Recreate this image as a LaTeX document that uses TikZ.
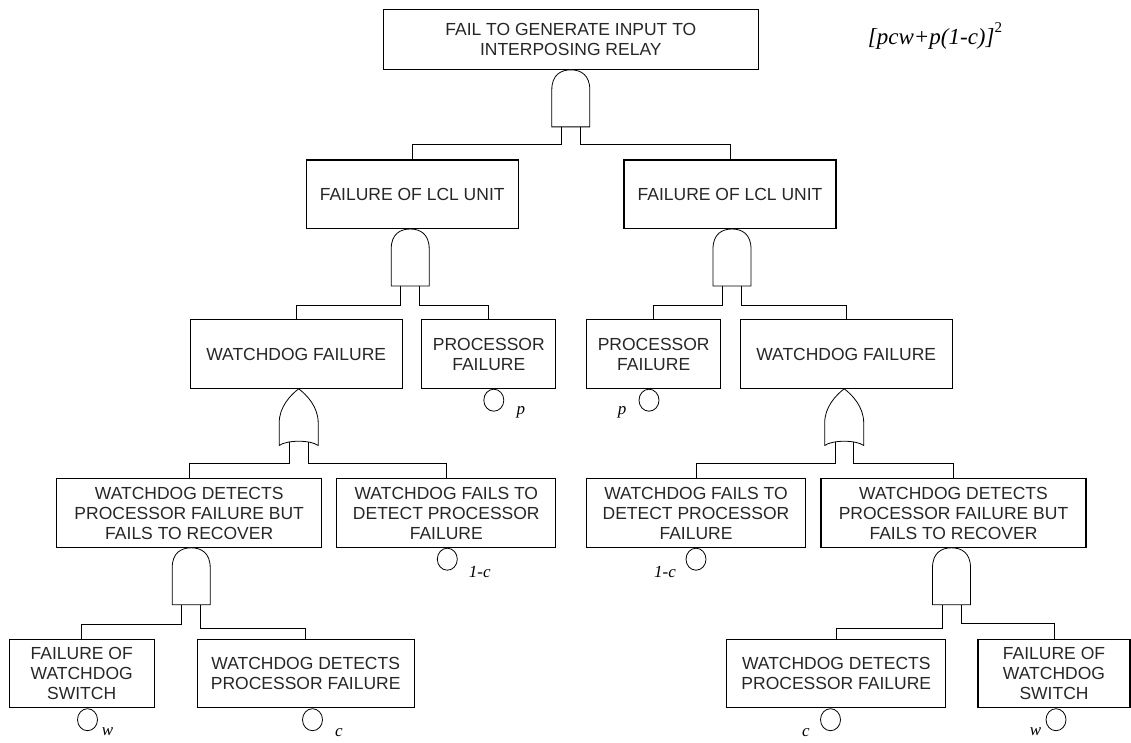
\documentclass[tikz,border=0pt]{standalone}
\usepackage{fontspec}
\setmainfont{Liberation Sans}
\newfontfamily\formfont{Liberation Serif}
\usetikzlibrary{calc,shapes.geometric}

\begin{document}
\begin{tikzpicture}[x=1pt,y=-1pt,
  evbox/.style={draw, line width=1.1pt, rectangle, inner sep=0pt, align=center,
    minimum height=68.5pt, font=\fontsize{17.5}{20}\selectfont, text=black!85},
  wire/.style={line width=0.8pt},
  gatepath/.style={draw, line width=0.8pt, fill=white},
  basic/.style={draw, ellipse, line width=0.8pt, minimum width=20pt,
    minimum height=22pt, inner sep=0pt, anchor=north},
  prob/.style={font=\formfont\itshape\fontsize{17}{19}\selectfont, inner sep=0pt},
  andgate/.pic={
    \draw[gatepath] (-19,57) -- (-19,20) .. controls (-19,5) and (-10,0) .. (0,0)
      .. controls (10,0) and (19,5) .. (19,20) -- (19,57) -- cycle;
    \coordinate (-l) at (-9.5,57);
    \coordinate (-r) at (9.5,57);
  },
  orgate/.pic={
    \draw[gatepath] (0,0) .. controls (8,6) and (19.5,18) .. (19.5,34) -- (19.5,56.7)
      .. controls (12,51) and (-12,51) .. (-19.5,56.7) -- (-19.5,34)
      .. controls (-19.5,18) and (-8,6) .. cycle;
    \coordinate (-l) at (-9.3,53.4);
    \coordinate (-r) at (9.3,53.4);
  }]

\useasboundingbox (0,0) rectangle (1131,742);

% top event and result
\node[evbox, minimum width=375pt, minimum height=60pt] (top) at (570.8,39.3)
  {FAIL TO GENERATE INPUT TO\\INTERPOSING RELAY};
\node[inner sep=0pt, font=\formfont\fontsize{23}{25}\selectfont] (res) at (935,36)
  {\itshape [pcw+p(1-c)]\raisebox{0.5em}{\upshape\fontsize{15}{15}\selectfont 2}};

% second level
\node[evbox, minimum width=212pt] (lclL) at (412.2,194.2) {FAILURE OF LCL UNIT};
\node[evbox, minimum width=212pt] (lclR) at (730,194.2) {FAILURE OF LCL UNIT};

% third level
\node[evbox, minimum width=212pt] (wdL) at (296.2,354) {WATCHDOG FAILURE};
\node[evbox, minimum width=134pt] (pfL) at (488.8,354) {PROCESSOR\\FAILURE};
\node[evbox, minimum width=134pt] (pfR) at (653.7,354) {PROCESSOR\\FAILURE};
\node[evbox, minimum width=212pt] (wdR) at (846.2,354) {WATCHDOG FAILURE};

% fourth level
\node[evbox, minimum width=265pt] (dbfL) at (189.2,513)
  {WATCHDOG DETECTS\\PROCESSOR FAILURE BUT\\FAILS TO RECOVER};
\node[evbox, minimum width=219pt] (ftdL) at (446.3,513)
  {WATCHDOG FAILS TO\\DETECT PROCESSOR\\FAILURE};
\node[evbox, minimum width=219pt] (ftdR) at (696,513)
  {WATCHDOG FAILS TO\\DETECT PROCESSOR\\FAILURE};
\node[evbox, minimum width=265pt] (dbfR) at (953.5,513)
  {WATCHDOG DETECTS\\PROCESSOR FAILURE BUT\\FAILS TO RECOVER};

% fifth level
\node[evbox, minimum width=145pt] (fwsL) at (81.7,673.5)
  {FAILURE OF\\WATCHDOG\\SWITCH};
\node[evbox, minimum width=217pt] (dpfL) at (305.7,673.5)
  {WATCHDOG DETECTS\\PROCESSOR FAILURE};
\node[evbox, minimum width=219pt] (dpfR) at (836.3,673.5)
  {WATCHDOG DETECTS\\PROCESSOR FAILURE};
\node[evbox, minimum width=152pt] (fwsR) at (1054,673.5)
  {FAILURE OF\\WATCHDOG\\SWITCH};

% gates
\pic (g0) at (top.south) {andgate};
\pic (g1) at ($(lclL.south)+(-2,0)$) {andgate};
\pic (g2) at ($(lclR.south)+(2,0)$) {andgate};
\pic (g3) at ($(wdL.south)+(2.5,0)$) {orgate};
\pic (g4) at ($(wdR.south)+(-2,0)$) {orgate};
\pic (g5) at ($(dbfL.south)+(2,0)$) {andgate};
\pic (g6) at ($(dbfR.south)+(-2,0)$) {andgate};

% connectors
\draw[wire] (g0-l) -- ++(0,17.6) -| (lclL.north);
\draw[wire] (g0-r) -- ++(0,17.6) -| (lclR.north);
\draw[wire] (g1-l) -- ++(0,19.3) -| (wdL.north);
\draw[wire] (g1-r) -- ++(0,19.3) -| (pfL.north);
\draw[wire] (g2-l) -- ++(0,19.3) -| (pfR.north);
\draw[wire] (g2-r) -- ++(0,19.3) -| (wdR.north);
\draw[wire] (g3-l) -- ++(0,21.5) -| (dbfL.north);
\draw[wire] (g3-r) -- ++(0,21.5) -| (ftdL.north);
\draw[wire] (g4-l) -- ++(0,21.5) -| (ftdR.north);
\draw[wire] (g4-r) -- ++(0,21.5) -| (dbfR.north);
\draw[wire] (g5-l) -- ++(0,20) -| (fwsL.north);
\draw[wire] (g5-r) -- ++(0,24) -| (dpfL.north);
\draw[wire] (g6-l) -- ++(0,23.4) -| (dpfR.north);
\draw[wire] (g6-r) -- ++(0,19) -| (fwsR.north);

% basic events with their probabilities
\node[basic] (epL) at ($(pfL.south)+(5,0)$) {};
\node[prob] at ($(epL.center)+(27,12)$) {p};
\node[basic] (epR) at ($(pfR.south)+(-4.7,0)$) {};
\node[prob] at ($(epR.center)+(-27,12)$) {p};
\node[basic] (ecL) at ($(ftdL.south)+(1,0)$) {};
\node[prob] at ($(ecL.center)+(32.5,12.3)$) {1-c};
\node[basic] (ecR) at (ftdR.south) {};
\node[prob] at ($(ecR.center)+(-31,12.3)$) {1-c};
\node[basic] (ewL) at ($(fwsL.south)+(5.8,0)$) {};
\node[prob] at ($(ewL.center)+(20,12.3)$) {w};
\node[basic] (edL) at ($(dpfL.south)+(6.8,0)$) {};
\node[prob] at ($(edL.center)+(26.5,13)$) {c};
\node[basic] (edR) at ($(dpfR.south)+(-5.8,0)$) {};
\node[prob] at ($(edR.center)+(-24.5,13)$) {c};
\node[basic] (ewR) at ($(fwsR.south)+(2,0)$) {};
\node[prob] at ($(ewR.center)+(-20.5,12.3)$) {w};
\end{tikzpicture}
\end{document}
